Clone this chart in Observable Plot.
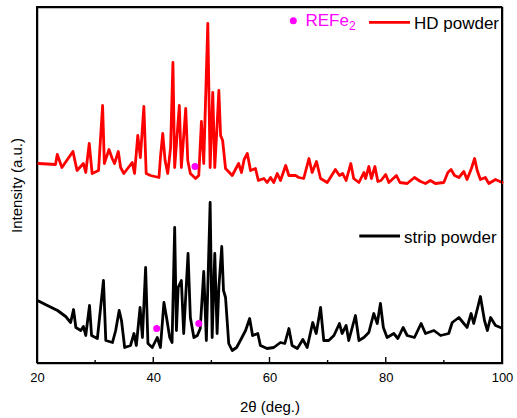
<!DOCTYPE html>
<html><head><meta charset="utf-8">
<script src="https://cdn.jsdelivr.net/npm/d3@7"></script>
<script src="https://cdn.jsdelivr.net/npm/@observablehq/plot@0.6"></script>
<style>
body{margin:0;background:#fff;}
#wrap{position:relative;width:517px;height:418px;}
#box{position:absolute;left:36px;top:6px;width:464px;height:355px;border:1.5px solid #000;pointer-events:none;}
</style>
</head><body><div id="wrap"><div id="chart"></div><div id="box"></div></div>
<script>
// HD powder (red, upper pattern)
const hdTheta = [20.2,23.1,23.4,24.2,26.1,26.8,27.9,28.3,28.9,29.4,30.5,31.2,31.5,32.3,32.85,33.25,33.9,34.3,34.85,36.3,36.7,37.25,37.7,38.3,38.7,39.45,40.9,41.15,41.55,41.95,42.4,42.9,43.3,43.6,44.4,44.75,45.5,45.85,46.3,47.2,47.75,48.2,48.6,49.3,49.7,50.15,50.5,50.85,51.2,51.5,51.85,52.35,53.5,54.6,55.1,55.55,56.1,56.65,57.5,58.0,58.95,59.5,60.1,60.65,61.25,61.8,62.7,63.25,64.4,64.95,65.8,66.7,67.25,68.0,68.7,69.85,71.25,71.95,72.5,73.1,73.9,74.4,75.3,76.15,76.45,77.0,77.45,78.05,78.55,79.1,79.9,80.45,81.75,82.35,83.6,84.85,85.9,86.75,87.6,88.45,89.9,90.6,91.15,91.75,92.5,93.35,93.9,94.65,95.2,95.65,96.2,97.05,97.65,98.8,99.95];
const hdIntensity = [200,199,209,196,212,193,200,191,220,190,193,258,200,214,205,200,212,196,190,201,190,228,206,257,190,188,186,206,230,203,190,216,301,196,258,196,255,203,190,185,188,242,200,340,196,271,196,233,273,228,223,195,188,200,191,204,210,193,195,183,185,181,186,181,190,183,198,188,188,186,185,205,191,202,185,181,194,188,190,183,200,185,181,191,185,197,185,197,182,183,189,181,188,181,180,186,182,180,183,180,181,191,194,188,186,192,184,195,205,193,184,186,180,184,181];

// strip powder (black, lower pattern)
const stripTheta = [20.0,21.7,23.45,24.85,25.7,26.2,26.6,27.45,27.9,28.3,28.95,29.3,30.3,31.35,31.75,32.9,33.45,34.05,34.45,35.0,36.0,36.6,37.0,37.65,38.05,38.6,39.0,39.75,40.6,41.15,41.75,42.2,42.75,43.15,43.6,43.9,44.2,44.75,45.15,45.9,46.3,46.9,47.5,48.0,48.6,49.05,49.7,50.05,50.5,50.9,51.2,51.7,52.0,52.35,52.9,53.5,54.25,54.9,55.8,56.5,57.0,57.9,58.35,59.5,60.65,61.8,62.55,63.25,63.8,64.7,65.65,66.4,67.35,67.95,68.7,69.25,70.1,71.0,71.95,72.4,73.1,73.55,74.7,75.3,76.15,77.0,77.85,78.45,79.0,79.5,80.15,81.3,82.0,82.9,83.6,84.85,86.0,86.75,88.2,89.35,90.75,91.35,92.5,93.35,93.9,94.6,95.05,96.2,96.9,97.4,97.95,98.8,99.65];
const stripIntensity = [63,58,53,47,41,54,36,33,37,28,58,28,25,83,23,21,33,53,43,16,18,30,18,56,26,96,20,16,26,16,61,46,26,21,136,33,76,83,30,110,46,26,28,35,92,23,161,26,110,30,76,117,73,66,20,13,16,23,33,45,28,30,18,15,16,21,20,35,18,15,24,16,41,30,56,23,23,28,40,30,38,23,48,23,26,31,50,40,60,36,26,30,25,36,28,26,40,30,33,28,30,41,46,40,36,50,40,67,43,33,46,38,36];

// REFe2 phase markers
const refTheta = [47.1, 40.5, 47.75];
const refIntensity = [197, 35, 40];

const xTicks = [20, 40, 60, 80, 100];
const xMinorTicks = [30, 50, 70, 90];

const hd = hdTheta.map((t, i) => ({theta: t, intensity: hdIntensity[i]}));
const strip = stripTheta.map((t, i) => ({theta: t, intensity: stripIntensity[i]}));
const refs = refTheta.map((t, i) => ({theta: t, intensity: refIntensity[i]}));

const FONT = "Liberation Sans, Arial, sans-serif";
const W = 517, H = 418, ML = 37, MR = 15, MT = 7, MB = 55;

function overlay(index, scales) {
  const x = scales && scales.x ? scales.x : d3.scaleLinear([20, 100], [ML, W - MR]);
  const g = d3.create("svg:g").attr("font-family", FONT).attr("text-anchor", "start");
  const y0 = H - MB;
  const seg = (a, b, c, d, w) => g.append("line").attr("x1", a).attr("y1", b).attr("x2", c).attr("y2", d)
    .attr("stroke", "#000").attr("stroke-width", w);
  for (const t of xTicks) seg(x(t), y0, x(t), y0 - 6, 1.4);
  for (const t of xMinorTicks) seg(x(t), y0, x(t), y0 - 3, 1.4);

  g.append("circle").attr("cx", 293.3).attr("cy", 20.7).attr("r", 3.5).attr("fill", "#ff00ff");
  const t = g.append("text").attr("x", 305.5).attr("y", 26).attr("fill", "#ff00ff").attr("font-size", 17);
  t.append("tspan").text("REFe");
  t.append("tspan").attr("font-size", 12).attr("dy", 4).text("2");
  g.append("line").attr("x1", 369).attr("x2", 410).attr("y1", 22.3).attr("y2", 22.3)
    .attr("stroke", "#ff0000").attr("stroke-width", 2.8);
  g.append("text").attr("x", 414).attr("y", 29.3).attr("fill", "#000").attr("font-size", 17).text("HD powder");
  g.append("line").attr("x1", 359.3).attr("x2", 400).attr("y1", 236).attr("y2", 236)
    .attr("stroke", "#000").attr("stroke-width", 2.8);
  g.append("text").attr("x", 404).attr("y", 242.7).attr("fill", "#000").attr("font-size", 17).text("strip powder");
  return g.node();
}

const chart = Plot.plot({
  width: W,
  height: H,
  marginLeft: ML,
  marginRight: MR,
  marginTop: MT,
  marginBottom: MB,
  style: {fontFamily: FONT},
  x: {domain: [20, 100]},
  y: {domain: [0, 356]},
  marks: [
    Plot.frame({stroke: "#000", strokeWidth: 1.5}),
    Plot.line(strip, {x: "theta", y: "intensity", stroke: "#000", strokeWidth: 2.8}),
    Plot.line(hd, {x: "theta", y: "intensity", stroke: "#ff0000", strokeWidth: 2.8}),
    Plot.dot(refs, {x: "theta", y: "intensity", r: 3.5, fill: "#ff00ff"}),
    Plot.axisX({ticks: xTicks, tickSize: 0, tickPadding: 9, fontSize: 13, label: null}),
    Plot.axisY({ticks: [], label: null}),
    Plot.text(["2θ (deg.)"], {frameAnchor: "bottom", lineAnchor: "bottom", textAnchor: "middle", dy: 48, fontSize: 15, fill: "#000"}),
    Plot.text(["Intensity (a.u.)"], {frameAnchor: "left", textAnchor: "middle", lineAnchor: "middle", dx: -20, rotate: -90, fontSize: 15, fill: "#000"}),
    overlay
  ]
});
document.getElementById("chart").appendChild(chart);
</script>
</body></html>
